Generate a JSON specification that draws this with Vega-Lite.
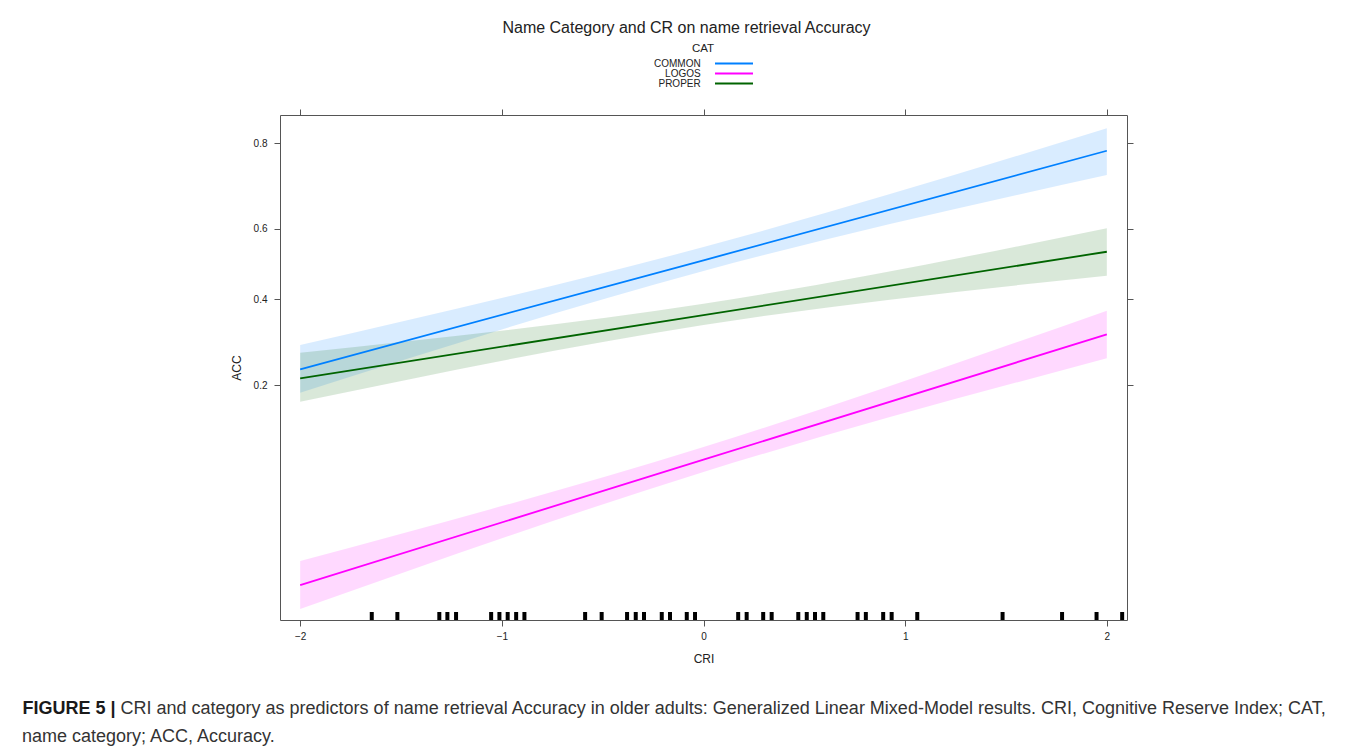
{
  "$schema": "https://vega.github.io/schema/vega-lite/v6.json",
  "width": 847,
  "height": 505,
  "autosize": {"type": "none"},
  "padding": {"left": 280, "top": 115, "right": 233, "bottom": 130},
  "background": "white",
  "config": {
    "font": "Liberation Sans",
    "view": {"stroke": "#555555", "strokeWidth": 1},
    "axis": {
      "grid": false,
      "domain": false,
      "tickColor": "#555555",
      "tickSize": 6,
      "labelColor": "#222222",
      "labelFontSize": 10,
      "labelFont": "Liberation Sans",
      "titleColor": "#222222",
      "titleFontSize": 12,
      "titleFontWeight": "normal",
      "titleFont": "Liberation Sans"
    }
  },
  "title": {
    "text": "name category; ACC, Accuracy.",
    "orient": "bottom",
    "anchor": "start",
    "frame": "group",
    "dx": -258,
    "offset": 11,
    "font": "Liberation Sans",
    "fontSize": 18,
    "fontWeight": "normal",
    "color": "#333333"
  },
  "datasets": {
    "effects": [
      {"CAT": "COMMON", "CRI": -2, "fit": -1.206, "lower": -1.475, "upper": -0.928},
      {"CAT": "COMMON", "CRI": 0, "fit": 0.044, "lower": -0.079, "upper": 0.196},
      {"CAT": "COMMON", "CRI": 2, "fit": 1.300, "lower": 1.022, "upper": 1.557},
      {"CAT": "LOGOS", "CRI": -2, "fit": -3.680, "lower": -3.956, "upper": -3.405},
      {"CAT": "LOGOS", "CRI": 0, "fit": -2.243, "lower": -2.384, "upper": -2.097},
      {"CAT": "LOGOS", "CRI": 2, "fit": -0.805, "lower": -1.080, "upper": -0.534},
      {"CAT": "PROPER", "CRI": -2, "fit": -1.310, "lower": -1.578, "upper": -1.016},
      {"CAT": "PROPER", "CRI": 0, "fit": -0.584, "lower": -0.698, "upper": -0.454},
      {"CAT": "PROPER", "CRI": 2, "fit": 0.142, "lower": -0.133, "upper": 0.411}
    ],
    "rug": [
      {"CRI": -1.645}, {"CRI": -1.518}, {"CRI": -1.310}, {"CRI": -1.270}, {"CRI": -1.227},
      {"CRI": -1.053}, {"CRI": -1.012}, {"CRI": -0.971}, {"CRI": -0.929}, {"CRI": -0.888},
      {"CRI": -0.587}, {"CRI": -0.505}, {"CRI": -0.379}, {"CRI": -0.336}, {"CRI": -0.295},
      {"CRI": -0.207}, {"CRI": -0.166}, {"CRI": -0.083}, {"CRI": -0.042}, {"CRI": 0.172},
      {"CRI": 0.214}, {"CRI": 0.296}, {"CRI": 0.338}, {"CRI": 0.470}, {"CRI": 0.512},
      {"CRI": 0.553}, {"CRI": 0.594}, {"CRI": 0.764}, {"CRI": 0.805}, {"CRI": 0.891},
      {"CRI": 0.933}, {"CRI": 1.060}, {"CRI": 1.483}, {"CRI": 1.778}, {"CRI": 1.949},
      {"CRI": 2.076}
    ]
  },
  "layer": [
    {
      "data": {"name": "effects"},
      "mark": {"type": "area", "fillOpacity": 0.15, "interpolate": "monotone"},
      "encoding": {
        "x": {
          "field": "CRI", "type": "quantitative",
          "scale": {"domain": [-2.1, 2.1], "nice": false, "zero": false},
          "axis": {"orient": "bottom", "values": [-2, -1, 0, 1, 2], "format": "d", "title": "CRI", "labelPadding": 5, "titlePadding": 12}
        },
        "y": {
          "field": "lower", "type": "quantitative",
          "scale": {"domain": [-4.081, 1.71], "nice": false, "zero": false},
          "axis": {
            "orient": "left",
            "values": [-1.386294, -0.405465, 0.405465, 1.386294],
            "labelExpr": "format(1/(1+exp(-datum.value)), '.1f')",
            "title": "ACC",
            "labelPadding": 7,
            "titlePadding": 10
          }
        },
        "y2": {"field": "upper"},
        "color": {
          "field": "CAT", "type": "nominal",
          "scale": {"domain": ["COMMON", "LOGOS", "PROPER"], "range": ["#0080ff", "#ff00ff", "#006400"]}
        }
      }
    },
    {
      "data": {"name": "effects"},
      "mark": {"type": "line", "strokeWidth": 1.8},
      "encoding": {
        "x": {
          "field": "CRI", "type": "quantitative",
          "axis": {
            "orient": "top", "values": [-2, -1, 0, 1, 2], "labels": false,
            "title": "Name Category and CR on name retrieval Accuracy",
            "titleFontSize": 16, "titleX": 406, "titleY": -83,
            "titleAlign": "center", "titleBaseline": "alphabetic", "titleAngle": 0
          }
        },
        "y": {
          "field": "fit", "type": "quantitative",
          "axis": {"orient": "right", "values": [-1.386294, -0.405465, 0.405465, 1.386294], "labels": false, "title": null}
        },
        "color": {
          "field": "CAT", "type": "nominal",
          "scale": {"domain": ["COMMON", "LOGOS", "PROPER"], "range": ["#0080ff", "#ff00ff", "#006400"]},
          "legend": {
            "title": "CAT",
            "orient": "none",
            "legendX": 412,
            "legendY": -72,
            "padding": 0,
            "symbolType": "M4.5,0H14",
            "symbolSize": 64,
            "symbolStrokeWidth": 2,
            "symbolOpacity": 1,
            "labelFontSize": 10,
            "labelColor": "#222222",
            "labelAlign": "right",
            "labelOffset": -1.3,
            "titleFontSize": 11.5,
            "titleFontWeight": "normal",
            "titleColor": "#222222",
            "titleAnchor": "start",
            "titlePadding": 4,
            "rowPadding": 0
          }
        }
      }
    },
    {
      "data": {"name": "rug"},
      "mark": {"type": "rule", "strokeWidth": 4, "color": "black"},
      "encoding": {
        "x": {
          "field": "CRI", "type": "quantitative",
          "axis": {
            "orient": "bottom", "ticks": false, "labels": false, "domain": false,
            "title": "FIGURE 5 |",
            "titleFontSize": 18, "titleFontWeight": "bold", "titleColor": "#1a1a1a",
            "titleX": -258, "titleY": 93, "titleAlign": "left", "titleBaseline": "alphabetic",
            "titleAngle": 0, "titleLimit": 2000
          }
        },
        "y": {
          "datum": -4.081,
          "axis": {
            "orient": "left", "ticks": false, "labels": false, "domain": false,
            "title": "CRI and category as predictors of name retrieval Accuracy in older adults: Generalized Linear Mixed-Model results. CRI, Cognitive Reserve Index; CAT,",
            "titleFontSize": 18, "titleFontWeight": "normal", "titleColor": "#333333",
            "titleX": -160, "titleY": 598, "titleAlign": "left", "titleBaseline": "alphabetic",
            "titleAngle": 0, "titleLimit": 2000
          }
        },
        "y2": {"datum": -3.989}
      }
    }
  ],
  "resolve": {"axis": {"x": "independent", "y": "independent"}}
}
